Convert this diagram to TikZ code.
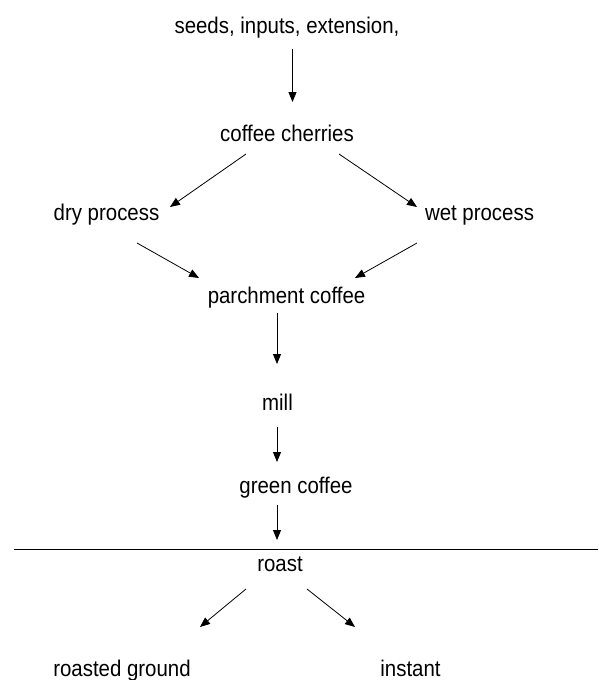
\documentclass[tikz,border=0pt]{standalone}
\usepackage{fontspec}
\setmainfont{Liberation Sans}[FakeStretch=0.9]
\usetikzlibrary{arrows.meta,calc}
\begin{document}
\begin{tikzpicture}[x=1pt,y=-1pt,
  lbl/.style={anchor=base,inner sep=0pt,font=\fontsize{22.7pt}{26pt}\selectfont},
  arr/.style={line width=0.8pt,-{Triangle[length=10pt,width=8pt]}}]
\useasboundingbox[fill=white] (0,0) rectangle (598,680);
\node[lbl] (seeds) at (287,34) {seeds, inputs, extension,};
\node[lbl] (cherries) at (287,141) {coffee cherries};
\node[lbl] (dry) at (106.5,220) {dry process};
\node[lbl] (wet) at (479.5,220) {wet process};
\node[lbl] (parch) at (286.5,303) {parchment coffee};
\node[lbl] (mill) at (277.5,410) {mill};
\node[lbl] (green) at (296,493) {green coffee};
\node[lbl] (roast) at (280,571) {roast};
\node[lbl] (rg) at (122,676) {roasted ground};
\node[lbl] (inst) at (410.5,676) {instant};
\coordinate (lineL) at (14,549);
\coordinate (lineR) at (598,549);
\draw[line width=1pt] (lineL) -- (lineR);
\draw[arr] ($(seeds.base)+(5.5,15)$) -- ($(cherries.base)+(5.5,-39)$);
\draw[arr] ($(cherries.base)+(-41,13)$) -- ($(dry.base)+(63.5,-13)$);
\draw[arr] ($(cherries.base)+(52,13)$) -- ($(wet.base)+(-62.5,-13)$);
\draw[arr] ($(dry.base)+(30.5,23)$) -- ($(parch.base)+(-87.5,-25)$);
\draw[arr] ($(wet.base)+(-62.5,23)$) -- ($(parch.base)+(68.5,-25)$);
\draw[arr] ($(parch.base)+(-9.5,10)$) -- ($(mill.base)+(-0.5,-46)$);
\draw[arr] ($(mill.base)+(-0.5,17)$) -- ($(green.base)+(-19,-31)$);
\draw[arr] ($(green.base)+(-19,12)$) -- ($(roast.base)+(-3,-31)$);
\draw[arr] ($(roast.base)+(-34,18)$) -- ($(rg.base)+(78,-49)$);
\draw[arr] ($(roast.base)+(27,18)$) -- ($(inst.base)+(-55.5,-49)$);
\end{tikzpicture}
\end{document}
